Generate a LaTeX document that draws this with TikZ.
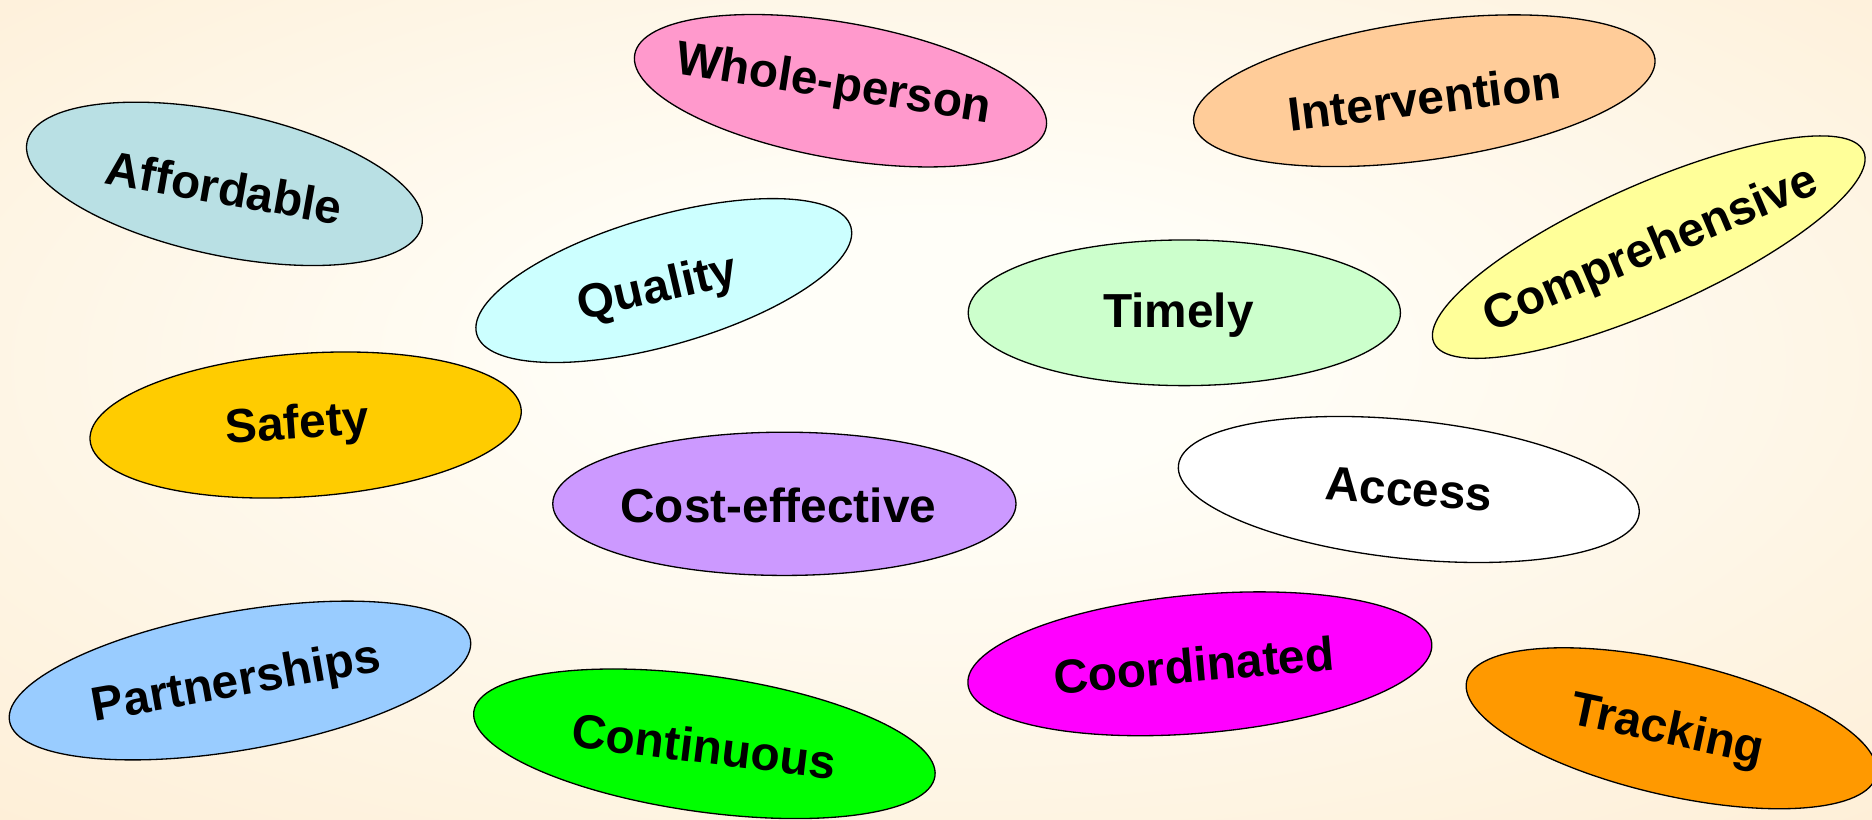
\documentclass[tikz,border=0pt]{standalone}
\usepackage{fontspec}
\setmainfont{Liberation Sans}
\usetikzlibrary{shapes.geometric}
\definecolor{bgin}{HTML}{FFFEF8}
\definecolor{bgout}{HTML}{FDE6C4}
\definecolor{cAff}{HTML}{B9E0E4}
\definecolor{cWho}{HTML}{FF99CC}
\definecolor{cInt}{HTML}{FFCC99}
\definecolor{cCom}{HTML}{FFFF99}
\definecolor{cQua}{HTML}{CCFFFF}
\definecolor{cTim}{HTML}{CCFFCC}
\definecolor{cSaf}{HTML}{FFCC00}
\definecolor{cCos}{HTML}{CC99FF}
\definecolor{cAcc}{HTML}{FFFFFF}
\definecolor{cPar}{HTML}{99CCFF}
\definecolor{cCon}{HTML}{00FF00}
\definecolor{cCoo}{HTML}{FF00FF}
\definecolor{cTra}{HTML}{FF9900}
\pgfdeclareradialshading{bgshade}{\pgfpoint{0bp}{4bp}}{color(0bp)=(bgin); color(8bp)=(bgin); color(55bp)=(bgout); color(80bp)=(bgout)}
\tikzset{
  bub/.style={ellipse, draw=black, line width=1.1pt, inner sep=0pt},
  lbl/.style={inner sep=0pt, font=\bfseries\fontsize{40}{48}\selectfont, text=black}
}
\begin{document}
\begin{tikzpicture}[x=1pt,y=1pt]
\useasboundingbox (0,0) rectangle (1568,686);
\begin{scope}
\clip (0,0) rectangle (1568,686);
\shade[shading=bgshade] (0,0) rectangle (1568,686);
% ellipses
\node[bub, fill=cAff, minimum width=338, minimum height=120, rotate=-12] (aff) at (188,532) {};
\node[bub, fill=cWho, minimum width=350, minimum height=114, rotate=-10] (who) at (704,610) {};
\node[bub, fill=cInt, minimum width=390, minimum height=116, rotate=8] (int) at (1193,610) {};
\node[bub, fill=cCom, minimum width=394, minimum height=104, rotate=24] (com) at (1381,479) {};
\node[bub, fill=cQua, minimum width=326, minimum height=108, rotate=16] (qua) at (556,451) {};
\node[bub, fill=cTim, minimum width=362, minimum height=122, rotate=0] (tim) at (992,424) {};
\node[bub, fill=cSaf, minimum width=362, minimum height=120, rotate=4] (saf) at (256,330) {};
\node[bub, fill=cCos, minimum width=388, minimum height=120, rotate=0] (cos) at (657,264) {};
\node[bub, fill=cAcc, minimum width=388, minimum height=116, rotate=-6] (acc) at (1180,276) {};
\node[bub, fill=cPar, minimum width=392, minimum height=116, rotate=10] (par) at (201,116) {};
\node[bub, fill=cCon, minimum width=390, minimum height=114, rotate=-8] (con) at (590,63) {};
\node[bub, fill=cCoo, minimum width=390, minimum height=116, rotate=5] (coo) at (1005,130) {};
\node[bub, fill=cTra, minimum width=352, minimum height=112, rotate=-13] (tra) at (1400,76) {};
% labels
\node[lbl, rotate=-10] (affT) at (188,529) {Affordable};
\node[lbl, rotate=-9] (whoT) at (698,614) {Whole-person};
\node[lbl, rotate=7] (intT) at (1193,604) {Intervention};
\node[lbl, rotate=23] (comT) at (1383,476) {Comprehensive};
\node[lbl, rotate=13] (quaT) at (551,443) {Quality};
\node[lbl] (timT) at (987,422) {Timely};
\node[lbl, rotate=4] (safT) at (249,329) {Safety};
\node[lbl] (cosT) at (652,263) {Cost-effective};
\node[lbl, rotate=-4] (accT) at (1180,276) {Access};
\node[lbl, rotate=10] (parT) at (198,113) {Partnerships};
\node[lbl, rotate=-7] (conT) at (590,61) {Continuous};
\node[lbl, rotate=5] (cooT) at (1000,129) {Coordinated};
\node[lbl, rotate=-12] (traT) at (1396,73) {Tracking};
\end{scope}
\end{tikzpicture}
\end{document}
